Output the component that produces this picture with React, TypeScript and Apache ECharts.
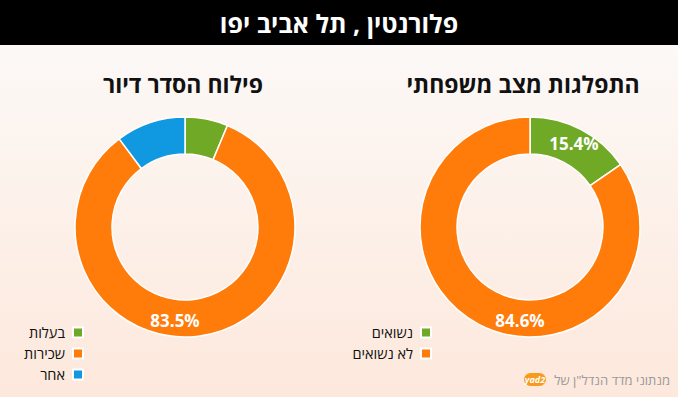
import React, { useEffect, useRef } from "react";
import * as echarts from "echarts";

const housingCats = ["בעלות", "שכירות", "אחר"];
const housingVals = [6.3, 83.5, 10.2];
const familyCats = ["נשואים", "לא נשואים"];
const familyVals = [15.4, 84.6];
const colorsHousing = ["#70a926", "#ff7b0a", "#1099e0"];
const colorsFamily = ["#70a926", "#ff7b0a"];

const FONT = "'Open Sans', 'DejaVu Sans', sans-serif";

export default function App() {
  const ref = useRef<HTMLDivElement>(null);
  useEffect(() => {
    document.body.style.margin = "0";
    const chart = echarts.init(ref.current!, null, { renderer: "svg" });
    const mk = (cats: string[], vals: number[], cols: string[]) =>
      cats.map((c, i) => ({ name: c, value: vals[i], itemStyle: { color: cols[i] } }));
    const labelFmt = (p: any) => (p.value >= 12 ? p.value.toFixed(1) + "%" : "");
    const layout = (p: any) => {
      if (p.labelRect && p.rect && p.rect.height > 200) {
        return {
          x: p.rect.x + p.rect.width / 2 - 10,
          y: p.rect.y + p.rect.height - 17,
          align: "center",
          verticalAlign: "middle",
        };
      }
      return {};
    };
    const pieBase = {
      type: "pie",
      radius: [73, 110],
      startAngle: 90,
      clockwise: true,
      avoidLabelOverlap: false,
      itemStyle: { borderColor: "#ffffff", borderWidth: 1.5 },
      label: {
        show: true,
        position: "inside",
        formatter: labelFmt,
        color: "#ffffff",
        fontSize: 17,
        fontWeight: "bold",
        fontFamily: FONT,
      },
      labelLine: { show: false },
      emphasis: { disabled: true },
      labelLayout: layout,
    };
    const legendBase = {
      top: 320,
      orient: "vertical",
      align: "right",
      icon: "rect",
      itemWidth: 10,
      itemHeight: 10,
      itemGap: 6,
      textStyle: { fontSize: 14.5, color: "#111", fontFamily: FONT, padding: [0, 3, 0, 0] },
      selectedMode: false,
    };
    chart.setOption({
      animation: false,
      graphic: [
        {
          type: "rect",
          shape: { x: 0, y: 0, width: 678, height: 397 },
          style: {
            fill: new echarts.graphic.LinearGradient(0, 0, 0, 1, [
              { offset: 0, color: "#fcfbfa" },
              { offset: 1, color: "#fde8dc" },
            ]),
          },
          z: -10,
          silent: true,
        },
        {
          type: "rect",
          shape: { x: 0, y: 0, width: 678, height: 45 },
          style: { fill: "#000000" },
          z: 1,
        },
        {
          type: "text",
          x: 339,
          y: 23,
          style: {
            text: "פלורנטין , תל אביב יפו",
            fill: "#ffffff",
            font: "bold 25px 'Liberation Sans Narrow', 'Open Sans', sans-serif",
            align: "center",
            verticalAlign: "middle",
          },
          z: 2,
        },
        {
          type: "text",
          x: 183,
          y: 84,
          style: {
            text: "פילוח הסדר דיור",
            fill: "#111111",
            font: "bold 23px " + FONT,
            align: "center",
            verticalAlign: "middle",
          },
        },
        {
          type: "text",
          x: 523,
          y: 84,
          style: {
            text: "התפלגות מצב משפחתי",
            fill: "#111111",
            font: "bold 23px " + FONT,
            align: "center",
            verticalAlign: "middle",
          },
        },
        {
          type: "text",
          x: 670,
          y: 380,
          style: {
            text: "מנתוני מדד הנדל\"ן של",
            fill: "#9a9a9a",
            font: "13px " + FONT,
            align: "right",
            verticalAlign: "middle",
          },
        },
        {
          type: "rect",
          shape: { x: 524, y: 373, width: 22, height: 13, r: 6.5 },
          style: { fill: "#f79a1e" },
        },
        {
          type: "text",
          x: 535,
          y: 379.5,
          style: {
            text: "yad2",
            fill: "#ffffff",
            font: "bold italic 9px " + FONT,
            align: "center",
            verticalAlign: "middle",
          },
        },
      ],
      legend: [
        { ...legendBase, data: housingCats, right: 589 },
        { ...legendBase, data: familyCats, right: 241 },
      ],
      series: [
        { ...pieBase, name: "housing", center: [185, 227], data: mk(housingCats, housingVals, colorsHousing) },
        { ...pieBase, name: "family", center: [530, 227], data: mk(familyCats, familyVals, colorsFamily) },
      ],
    });
    return () => chart.dispose();
  }, []);
  return (
    <div
      ref={ref}
      style={{ position: "absolute", left: 0, top: 0, width: 678, height: 397 }}
    />
  );
}
